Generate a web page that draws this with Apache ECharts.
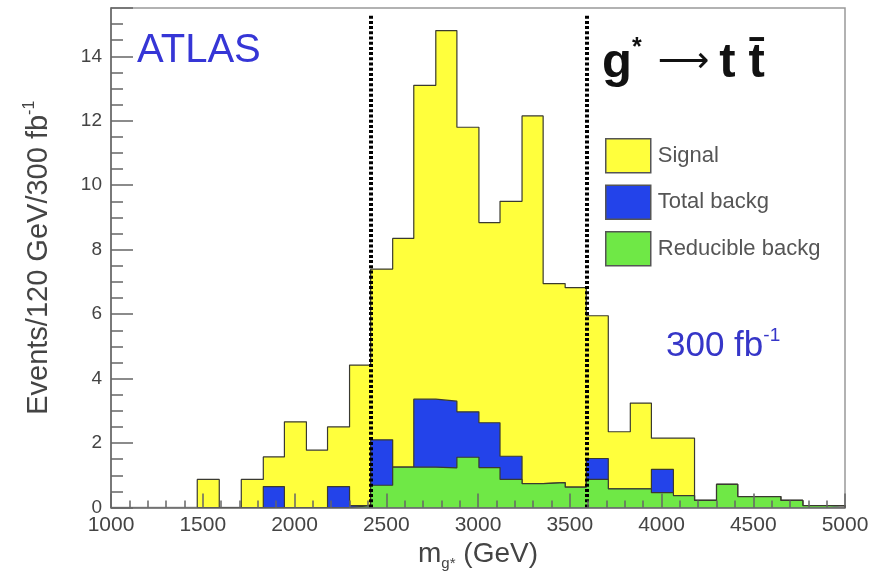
<!DOCTYPE html>
<html>
<head>
<meta charset="utf-8">
<script src="https://cdn.jsdelivr.net/npm/echarts@6/dist/echarts.min.js"></script>
<style>
  html, body { margin: 0; padding: 0; background: #ffffff; }
  #chart { width: 877px; height: 579px; }
</style>
</head>
<body>
<div id="chart"></div>
<script>
// Histogram bin edges (GeV), one more edge than bins
const binEdges = [1470, 1590, 1710, 1830, 1945, 2065, 2180, 2300, 2415, 2535,
                  2650, 2770, 2885, 3005, 3120, 3240, 3355, 3475, 3590, 3710,
                  3830, 3945, 4065, 4180, 4300, 4415, 4535, 4650, 4770, 4890, 5000];

// Events per bin for 300 fb^-1
const signal       = [0.87, 0, 0.87, 1.57, 2.66, 1.78, 2.5, 4.42, 7.4, 8.35,
                      13.1, 14.8, 11.8, 8.84, 9.5, 12.15, 6.95, 6.82, 5.95, 2.35,
                      3.24, 2.15, 2.15, 0.22, 0.72, 0.34, 0.34, 0.22, 0.06, 0.06];
const totalBkg     = [0, 0, 0, 0.65, 0, 0, 0.65, 0.06, 2.1, 1.25,
                      3.36, 3.3, 2.97, 2.63, 1.59, 0.74, 0.77, 0.63, 1.52, 0.58,
                      0.58, 1.18, 0.37, 0.22, 0.72, 0.34, 0.34, 0.22, 0.06, 0.06];
const reducibleBkg = [0, 0, 0, 0, 0, 0, 0, 0.06, 0.69, 1.25,
                      1.25, 1.23, 1.56, 1.24, 0.87, 0.74, 0.77, 0.63, 0.87, 0.58,
                      0.58, 0.46, 0.37, 0.22, 0.72, 0.34, 0.34, 0.22, 0.06, 0.06];

// Mass window cuts (GeV)
const cutLow = 2415;
const cutHigh = 3590;

const seriesNames = ['Signal', 'Total backg', 'Reducible backg'];
const fillColors  = ['#ffff3c', '#2343ea', '#6fe846'];
const outline = '#3a3a30';
const FONT = '"Liberation Sans", Arial, Helvetica, sans-serif';

// Turn per-bin contents into an outlined step profile
function stepPoints(vals) {
  const n = vals.length;
  const pts = [[binEdges[0], 0]];
  vals.forEach((v, i) => pts.push([binEdges[i], v]));
  pts.push([binEdges[n], vals[n - 1]]);
  pts.push([binEdges[n], 0]);
  return pts;
}

const chart = echarts.init(document.getElementById('chart'), null, { renderer: 'canvas' });

const histSeries = [signal, totalBkg, reducibleBkg].map((vals, i) => ({
  name: seriesNames[i],
  type: 'line',
  step: 'end',
  symbol: 'none',
  silent: true,
  z: 2 + i,
  data: stepPoints(vals),
  lineStyle: { color: outline, width: 1.2 },
  areaStyle: { color: fillColors[i], opacity: 1 },
  itemStyle: { color: fillColors[i] }
}));

// dotted mass-window lines drawn above the fills
histSeries[2].markLine = {
  silent: true,
  symbol: ['none', 'none'],
  label: { show: false },
  lineStyle: { color: '#000', width: 4, type: [3, 2.2], cap: 'butt' },
  data: [
    [{ coord: [cutLow, 0] }, { coord: [cutLow, 15.3] }],
    [{ coord: [cutHigh, 0] }, { coord: [cutHigh, 15.3] }]
  ]
};

const option = {
  animation: false,
  backgroundColor: '#ffffff',
  grid: {
    left: 111, right: 32, top: 8, bottom: 71.5,
    show: true, borderColor: '#999', borderWidth: 1.5, backgroundColor: '#fff'
  },
  title: [
    {
      text: 'ATLAS', left: 137, top: 31, padding: 0,
      textStyle: { fontFamily: FONT, fontSize: 40, fontWeight: 'normal', color: '#3636d6' }
    },
    {
      text: '{g|g}{s|*}{a|\u27F6}{t|t}{u|t\u0304}', left: 602, top: 36, padding: 0,
      textStyle: {
        rich: {
          g: { fontFamily: FONT, fontSize: 49, fontWeight: 'bold', color: '#111', lineHeight: 54 },
          s: { fontFamily: FONT, fontSize: 25, fontWeight: 'bold', color: '#111', lineHeight: 30, verticalAlign: 'top' },
          a: { fontFamily: '"DejaVu Sans"', fontSize: 36, fontWeight: 'normal', color: '#111', lineHeight: 54, padding: [0, 10, 0, 16] },
          t: { fontFamily: FONT, fontSize: 49, fontWeight: 'bold', color: '#111', lineHeight: 54 },
          u: { fontFamily: FONT, fontSize: 49, fontWeight: 'bold', color: '#111', lineHeight: 54, padding: [0, 0, 0, 13] }
        }
      }
    },
    {
      text: '{n|300 fb}{s|-1}', left: 666, top: 326, padding: 0,
      textStyle: {
        rich: {
          n: { fontFamily: FONT, fontSize: 35, fontWeight: 'normal', color: '#3636c8', lineHeight: 40 },
          s: { fontFamily: FONT, fontSize: 19, fontWeight: 'normal', color: '#3636c8', lineHeight: 26, verticalAlign: 'top' }
        }
      }
    }
  ],
  legend: {
    orient: 'vertical',
    left: 605, top: 138, padding: 0,
    itemWidth: 45, itemHeight: 34, itemGap: 11,
    selectedMode: false,
    textStyle: { fontFamily: FONT, fontSize: 22, color: '#555', padding: [0, 0, 0, 2] },
    data: seriesNames.map((name, i) => ({
      name, icon: 'rect',
      itemStyle: { color: fillColors[i], borderColor: '#555', borderWidth: 1.5 }
    }))
  },
  xAxis: {
    type: 'value', min: 1000, max: 5000, interval: 500, z: 10,
    name: '{a|m}{b|g*}{a| (GeV)}', nameLocation: 'middle', nameGap: 30,
    nameTextStyle: {
      rich: {
        a: { fontFamily: FONT, fontSize: 28, color: '#444', lineHeight: 34 },
        b: { fontFamily: FONT, fontSize: 15, color: '#444', lineHeight: 16, verticalAlign: 'bottom' }
      }
    },
    axisLine: { show: true, onZero: false, lineStyle: { color: '#666', width: 1.5 } },
    axisTick: { show: true, inside: true, length: 14, lineStyle: { color: '#666', width: 1.5 } },
    minorTick: { show: true, splitNumber: 5, length: 7, lineStyle: { color: '#666', width: 1.5 } },
    splitLine: { show: false },
    axisLabel: { fontFamily: FONT, fontSize: 21, color: '#444', margin: 7, formatter: v => String(v) }
  },
  yAxis: {
    type: 'value', min: 0, max: 15.5, interval: 2, z: 10,
    name: '{a|Events/120 GeV/300 fb}{b|-1}', nameLocation: 'middle', nameGap: 55,
    nameTextStyle: {
      rich: {
        a: { fontFamily: FONT, fontSize: 29, color: '#444', lineHeight: 34 },
        b: { fontFamily: FONT, fontSize: 16, color: '#444', lineHeight: 20, verticalAlign: 'top' }
      }
    },
    axisLine: { show: true, onZero: false, lineStyle: { color: '#666', width: 1.5 } },
    axisTick: { show: true, inside: true, length: 22, lineStyle: { color: '#666', width: 1.5 } },
    minorTick: { show: true, splitNumber: 4, length: 12, lineStyle: { color: '#666', width: 1.5 } },
    splitLine: { show: false },
    axisLabel: { fontFamily: FONT, fontSize: 19, color: '#444', margin: 9, showMaxLabel: false, formatter: v => String(v) }
  },
  series: histSeries
};

chart.setOption(option);
</script>
</body>
</html>
